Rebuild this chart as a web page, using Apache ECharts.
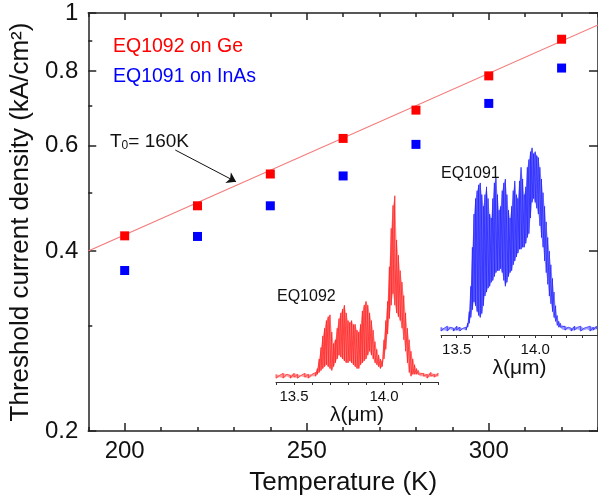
<!DOCTYPE html>
<html>
<head>
<meta charset="utf-8">
<script src="https://cdn.jsdelivr.net/npm/echarts@6/dist/echarts.min.js"></script>
<style>
html, body { margin: 0; padding: 0; background: #fff; }
#chart { width: 598px; height: 501px; }
</style>
</head>
<body>
<div id="chart"></div>
<script>
// main data: threshold current density vs temperature
var temps = [200, 220, 240, 260, 280, 300, 320];
var jGe = [0.424, 0.476, 0.538, 0.617, 0.688, 0.785, 0.904];
var jInAs = [0.371, 0.423, 0.476, 0.534, 0.603, 0.706, 0.809];
// T0 = 160K fit line ends
var fitT = [190, 330];
var fitJ = [0.40, 0.955];
// annotation arrow (data coords)
var arrowFrom = [213.9, 0.590];
var arrowTo = [230.6, 0.522];

var xMajor = [200, 250, 300];
var yMajor = [0.2, 0.4, 0.6, 0.8, 1];
var yMinor = [0.3, 0.5, 0.7, 0.9];

// inset spectra: wavelength, lower and upper envelope of fringes
var wl1 = [13.40,13.42,13.44,13.46,13.48,13.50,13.52,13.54,13.56,13.58,13.60,13.62,
  13.63,13.64,13.65,13.66,13.67,13.68,13.69,13.70,13.71,13.72,
  13.73,13.74,13.75,13.76,13.77,13.78,13.79,13.80,13.81,13.82,
  13.83,13.84,13.85,13.86,13.87,13.88,13.89,13.90,13.91,13.92,
  13.93,13.94,13.95,13.96,13.97,13.98,13.99,14.00,14.01,14.02,
  14.03,14.04,14.05,14.06,14.07,14.08,14.09,14.10,14.11,14.12,
  14.13,14.14,14.15,14.16,14.17,14.18,14.19,14.20,
  14.22,14.24,14.26,14.28,14.30];
var lo1 = [0.02,0.025,0.02,0.03,0.02,0.025,0.02,0.03,0.025,0.02,0.03,0.03,
  0.04,0.05,0.06,0.07,0.08,0.09,0.08,0.07,0.06,0.08,
  0.10,0.12,0.14,0.13,0.12,0.11,0.10,0.10,0.11,0.10,
  0.09,0.08,0.07,0.07,0.09,0.10,0.11,0.12,0.14,0.16,
  0.14,0.12,0.10,0.09,0.08,0.07,0.08,0.12,0.17,0.25,
  0.33,0.40,0.46,0.40,0.36,0.34,0.32,0.28,0.22,0.16,
  0.10,0.05,0.03,0.04,0.04,0.04,0.04,0.03,
  0.03,0.02,0.03,0.025,0.03];
var hi1 = [0.04,0.035,0.045,0.04,0.035,0.045,0.04,0.035,0.045,0.04,0.04,0.05,
  0.07,0.12,0.18,0.24,0.28,0.32,0.34,0.35,0.26,0.20,
  0.22,0.28,0.33,0.36,0.38,0.40,0.36,0.32,0.31,0.32,
  0.30,0.30,0.27,0.26,0.30,0.37,0.40,0.42,0.40,0.36,
  0.32,0.27,0.21,0.17,0.14,0.12,0.11,0.22,0.32,0.42,
  0.60,0.80,0.92,0.97,0.74,0.66,0.58,0.52,0.45,0.36,
  0.28,0.22,0.16,0.12,0.09,0.07,0.06,0.05,
  0.045,0.04,0.05,0.04,0.045];

var wl2 = [13.40,13.42,13.44,13.46,13.48,13.50,13.52,13.54,13.56,
  13.57,13.58,13.59,13.60,13.61,13.62,13.63,13.64,13.65,13.66,
  13.67,13.68,13.69,13.70,13.71,13.72,13.73,13.74,13.75,13.76,
  13.77,13.78,13.79,13.80,13.81,13.82,13.83,13.84,13.85,13.86,
  13.87,13.88,13.89,13.90,13.91,13.92,13.93,13.94,13.95,13.96,
  13.97,13.98,13.99,14.00,14.01,14.02,14.03,14.04,14.05,14.06,
  14.07,14.08,14.09,14.10,14.11,14.12,14.13,14.14,14.15,14.16,14.17,
  14.19,14.21,14.23,14.25,14.27,14.29,14.31,14.33,14.35,14.37,14.39];
var lo2 = [0.02,0.025,0.02,0.03,0.02,0.025,0.02,0.03,0.025,
  0.04,0.06,0.09,0.13,0.17,0.15,0.12,0.10,0.09,0.11,
  0.15,0.20,0.22,0.24,0.25,0.27,0.28,0.30,0.32,0.33,
  0.33,0.34,0.32,0.28,0.25,0.27,0.30,0.32,0.33,0.36,
  0.38,0.40,0.42,0.44,0.44,0.45,0.45,0.47,0.50,0.52,
  0.60,0.68,0.70,0.68,0.65,0.62,0.56,0.50,0.45,0.38,
  0.32,0.26,0.20,0.16,0.12,0.09,0.07,0.05,0.04,0.04,0.03,
  0.025,0.03,0.02,0.025,0.03,0.02,0.025,0.03,0.02,0.025,0.03];
var hi2 = [0.04,0.035,0.045,0.04,0.035,0.045,0.04,0.035,0.04,
  0.06,0.12,0.25,0.45,0.62,0.70,0.74,0.77,0.78,0.72,
  0.66,0.72,0.76,0.70,0.62,0.60,0.70,0.78,0.81,0.72,
  0.64,0.66,0.74,0.78,0.80,0.72,0.64,0.60,0.66,0.74,
  0.79,0.72,0.70,0.79,0.86,0.80,0.72,0.76,0.86,0.90,
  0.94,0.96,0.93,0.94,0.92,0.91,0.86,0.80,0.73,0.66,
  0.58,0.50,0.43,0.36,0.29,0.22,0.15,0.10,0.07,0.06,0.05,
  0.045,0.04,0.035,0.045,0.04,0.045,0.035,0.04,0.045,0.04,0.045];

var FONT = 'Liberation Sans, Arial, sans-serif';
var INK = '#222';

function pairs(xs, ys) {
  return xs.map(function (x, i) { return [x, ys[i]]; });
}
// fringe trace: vertical stroke from upper to lower envelope at every sample
function fringes(xs, lo, hi) {
  var out = [];
  xs.forEach(function (x, i) {
    out.push([x, hi[i]]);
    out.push([x, lo[i]]);
  });
  return out;
}

var chart = echarts.init(document.getElementById('chart'));

var mainX = { type: 'value', gridIndex: 0, min: 190, max: 330 };
var mainY = { type: 'log', gridIndex: 0, min: 0.2, max: 1 };
function ax(base, extra) { return Object.assign({}, base, extra); }
function tick(len, vals) {
  var t = { show: true, inside: true, length: len, lineStyle: { color: INK, width: 1.5 } };
  if (vals) t.customValues = vals;
  return t;
}

var insetX = function (grid, max, gap) {
  return {
    type: 'value', gridIndex: grid, min: 13.4, max: max, interval: 0.1,
    name: 'λ(μm)', nameLocation: 'middle', nameGap: gap,
    nameTextStyle: { fontFamily: FONT, fontSize: 21, color: '#111' },
    axisLine: { show: true, lineStyle: { color: '#333', width: 1 } },
    axisTick: { show: true, length: 3, lineStyle: { color: '#333' } },
    axisLabel: {
      show: true, customValues: [13.5, 14.0], margin: 7,
      fontFamily: FONT, fontSize: 15, color: '#111',
      formatter: function (v) { return v.toFixed(1); }
    },
    splitLine: { show: false }
  };
};
var insetY = function (grid) {
  return { type: 'value', gridIndex: grid, min: 0, max: 1, show: false };
};

// band between the envelopes, drawn as one polygon through the inset's axes
function spectrum(name, axisIdx, xs, lo, hi, fill, stroke) {
  return [
    {
      name: name + '-band', type: 'custom', xAxisIndex: axisIdx, yAxisIndex: axisIdx - 1,
      data: pairs(xs, hi), z: 3, silent: true,
      renderItem: function (params, api) {
        if (params.dataIndex !== 0) return null;
        var pts = [];
        xs.forEach(function (x, i) { pts.push(api.coord([x, hi[i]])); });
        for (var i = xs.length - 1; i >= 0; i--) pts.push(api.coord([xs[i], lo[i]]));
        return { type: 'polygon', shape: { points: pts }, style: { fill: fill, stroke: null } };
      }
    },
    {
      name: name, type: 'line', xAxisIndex: axisIdx, yAxisIndex: axisIdx - 1,
      data: fringes(xs, lo, hi), symbol: 'none', z: 4,
      lineStyle: { color: stroke, width: 1 }
    }
  ];
}

var option = {
  animation: false,
  backgroundColor: '#fff',
  textStyle: { fontFamily: FONT },
  grid: [
    { left: 86, right: -8, top: 13, bottom: 70 },
    { left: 276, width: 162, top: 190, height: 192 },
    { left: 441, width: 157, top: 140, height: 195 }
  ],
  legend: {
    orient: 'vertical', left: 103, top: 32,
    icon: 'none', itemWidth: 0, itemHeight: 14, itemGap: 10,
    selectedMode: false,
    textStyle: { fontFamily: FONT, fontSize: 19.5 },
    data: [
      { name: 'EQ1092 on Ge', textStyle: { color: '#ff0000' } },
      { name: 'EQ1091 on InAs', textStyle: { color: '#0000ff' } }
    ]
  },
  xAxis: [
    ax(mainX, {
      position: 'bottom',
      name: 'Temperature (K)', nameLocation: 'middle', nameGap: 39,
      nameTextStyle: { fontSize: 26, color: '#111', fontFamily: FONT },
      axisLine: { show: true, lineStyle: { color: INK, width: 1.5 } },
      axisTick: tick(8, xMajor),
      axisLabel: { show: true, customValues: xMajor, margin: 8, fontSize: 24, color: '#111', fontFamily: FONT },
      splitLine: { show: false }
    }),
    ax(mainX, {
      position: 'bottom', interval: 10,
      axisLine: { show: false },
      axisTick: tick(4),
      axisLabel: { show: false }, splitLine: { show: false }
    }),
    ax(mainX, {
      position: 'top',
      axisLine: { show: true, lineStyle: { color: INK, width: 1.5 } },
      axisTick: tick(7, xMajor),
      axisLabel: { show: false }, splitLine: { show: false }
    }),
    ax(mainX, {
      position: 'top', interval: 10,
      axisLine: { show: false },
      axisTick: tick(4),
      axisLabel: { show: false }, splitLine: { show: false }
    }),
    insetX(1, 14.3, 22),
    insetX(2, 14.4, 22)
  ],
  yAxis: [
    ax(mainY, {
      position: 'left',
      name: 'Threshold current density (kA/cm²)', nameLocation: 'middle', nameGap: 43,
      nameTextStyle: { fontSize: 26, color: '#111', fontFamily: FONT },
      axisLine: { show: true, lineStyle: { color: INK, width: 1.5 } },
      axisTick: tick(8, yMajor),
      axisLabel: {
        show: true, customValues: yMajor, margin: 10, fontSize: 24, color: '#111', fontFamily: FONT,
        formatter: function (v) { return String(+(+v).toFixed(1)); }
      },
      splitLine: { show: false }
    }),
    ax(mainY, {
      position: 'left',
      axisLine: { show: false },
      axisTick: tick(4, yMinor),
      axisLabel: { show: false }, splitLine: { show: false }
    }),
    ax(mainY, {
      position: 'right',
      axisLine: { show: true, lineStyle: { color: INK, width: 1.5 } },
      axisTick: tick(9, yMajor),
      axisLabel: { show: false }, splitLine: { show: false }
    }),
    insetY(1),
    insetY(2)
  ],
  graphic: [
    {
      type: 'text', left: 110, top: 131, z: 10,
      style: {
        text: '{a|T}{s|0}{a|= 160K}',
        rich: {
          a: { fontFamily: FONT, fontSize: 19, fill: '#111', lineHeight: 20 },
          s: { fontFamily: FONT, fontSize: 12, fill: '#111', lineHeight: 20, padding: [9, 0, 0, 0] }
        }
      }
    },
    { type: 'text', left: 277, top: 289, z: 10,
      style: { text: 'EQ1092', fontFamily: FONT, fontSize: 16, fill: '#111' } },
    { type: 'text', left: 441, top: 166, z: 10,
      style: { text: 'EQ1091', fontFamily: FONT, fontSize: 16, fill: '#111' } }
  ],
  series: [
    {
      name: 'fit', type: 'line', xAxisIndex: 0, yAxisIndex: 0,
      data: pairs(fitT, fitJ), symbol: 'none', z: 2,
      lineStyle: { color: '#f47a7a', width: 1.2 },
      markLine: {
        silent: true, symbol: ['none', 'arrow'], symbolSize: 9,
        label: { show: false },
        lineStyle: { color: '#111', width: 1, type: 'solid' },
        data: [[{ coord: arrowFrom }, { coord: arrowTo }]]
      }
    },
    {
      name: 'EQ1092 on Ge', type: 'scatter', xAxisIndex: 0, yAxisIndex: 0,
      data: pairs(temps, jGe), symbol: 'rect', symbolSize: 9, z: 5,
      itemStyle: { color: '#ff0000', opacity: 1 }
    },
    {
      name: 'EQ1091 on InAs', type: 'scatter', xAxisIndex: 0, yAxisIndex: 0,
      data: pairs(temps, jInAs), symbol: 'rect', symbolSize: 9, z: 5,
      itemStyle: { color: '#0000ff', opacity: 1 }
    }
  ]
  .concat(spectrum('EQ1092', 4, wl1, lo1, hi1, 'rgba(255,90,90,0.6)', 'rgba(255,30,30,0.7)'))
  .concat(spectrum('EQ1091', 5, wl2, lo2, hi2, 'rgba(90,90,255,0.6)', 'rgba(30,30,255,0.7)'))
};

chart.setOption(option);
</script>
</body>
</html>
